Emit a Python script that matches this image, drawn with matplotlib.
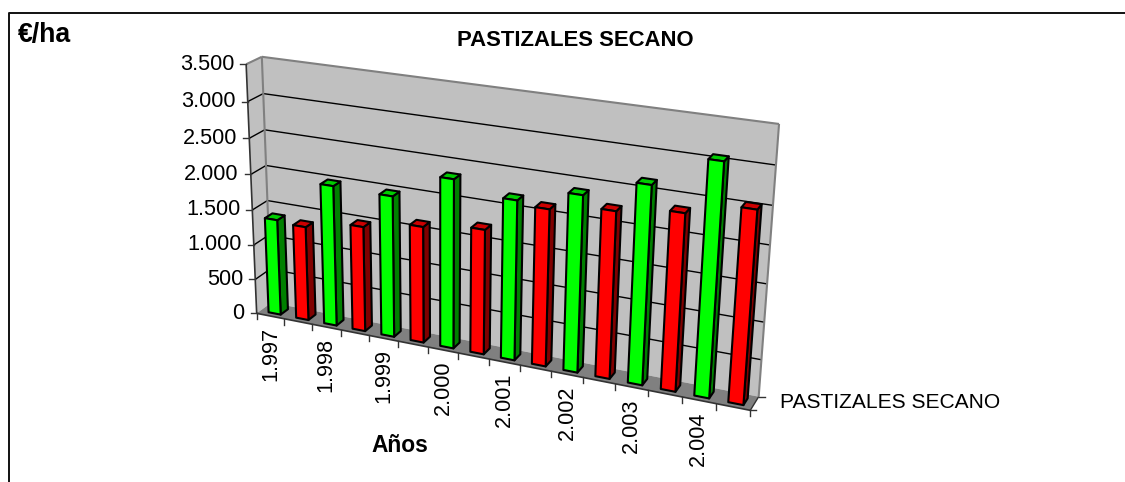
import numpy as np
import matplotlib
matplotlib.use("Agg")
import matplotlib.pyplot as plt
from matplotlib.patches import Polygon

plt.rcParams['font.family'] = ['Liberation Sans', 'DejaVu Sans']

# data
years = ["1.997", "1.998", "1.999", "2.000", "2.001", "2.002", "2.003", "2.004"]
green_values = [1370, 1980, 1970, 2330, 2180, 2380, 2640, 3060]
red_values = [1340, 1480, 1620, 1720, 2130, 2240, 2350, 2530]
value_ticks = [0, 500, 1000, 1500, 2000, 2500, 3000, 3500]
value_labels = ["0", "500", "1.000", "1.500", "2.000", "2.500", "3.000", "3.500"]
series_name = "PASTIZALES SECANO"

VMAX = 3500.0
NCAT = 2 * len(years)

# the box corners in pixels: (category, value, depth) -> where Excel drew it
box_corners = [
    ((0, VMAX, 0), (245, 64)), ((0, 0, 0), (258, 313)), ((NCAT, 0, 0), (750, 411)),
    ((0, VMAX, 1), (263, 57)), ((0, 0, 1), (270, 303)), ((NCAT, 0, 1), (759, 396)),
    ((NCAT, VMAX, 1), (779, 124)),
]


def fit_projection(corners):
    # plain DLT, gives the 3x4 perspective matrix for the 3D box
    rows = []
    for (x, y, z), (px, py) in corners:
        rows.append([x, y, z, 1, 0, 0, 0, 0, -px * x, -px * y, -px * z, -px])
        rows.append([0, 0, 0, 0, x, y, z, 1, -py * x, -py * y, -py * z, -py])
    _, _, vt = np.linalg.svd(np.array(rows, dtype=float))
    return vt[-1].reshape(3, 4)


P = fit_projection(box_corners)


def proj(x, y, z):
    h = P @ np.array([x, y, z, 1.0])
    return h[0] / h[2], h[1] / h[2]


def face(ax, pts, color, edge, lw=1.0, zorder=1):
    ax.add_patch(Polygon([proj(*p) for p in pts], closed=True, facecolor=color,
                         edgecolor=edge, linewidth=lw, joinstyle='round', zorder=zorder))


def seg(ax, a, b, color="black", lw=1.0, zorder=2):
    pa, pb = proj(*a), proj(*b)
    ax.plot([pa[0], pb[0]], [pa[1], pb[1]], color=color, lw=lw, zorder=zorder,
            solid_capstyle='butt')


def bar(ax, i, value, front, side, top, zorder):
    # bar sits in the middle of its category and in the middle of the depth
    x0, x1 = i + 0.30, i + 0.74
    z0, z1 = 0.25, 0.75
    face(ax, [(x1, 0, z0), (x1, 0, z1), (x1, value, z1), (x1, value, z0)], side, "black", 1.5, zorder)
    face(ax, [(x0, value, z0), (x1, value, z0), (x1, value, z1), (x0, value, z1)], top, "black", 1.5, zorder)
    face(ax, [(x0, 0, z0), (x1, 0, z0), (x1, value, z0), (x0, value, z0)], front, "black", 1.5, zorder)


fig = plt.figure(figsize=(11.25, 4.82), dpi=100)
ax = fig.add_axes([0, 0, 1, 1])
ax.set_xlim(0, 1125)
ax.set_ylim(482, 0)
ax.axis('off')

# chart frame, cut off at the bottom and right of the picture
ax.plot([8.5, 8.5, 1125], [482, 12.5, 12.5], color="#111111", lw=1.4, zorder=0)

# walls and floor
face(ax, [(0, 0, 0), (0, 0, 1), (0, VMAX, 1), (0, VMAX, 0)], "#C0C0C0", "none", zorder=1)
face(ax, [(0, 0, 1), (NCAT, 0, 1), (NCAT, VMAX, 1), (0, VMAX, 1)], "#C0C0C0", "none", zorder=1)
face(ax, [(0, 0, 0), (NCAT, 0, 0), (NCAT, 0, 1), (0, 0, 1)], "#808080", "none", zorder=1)

for v in value_ticks[1:-1]:
    seg(ax, (0, v, 0), (0, v, 1), lw=1.0)
    seg(ax, (0, v, 1), (NCAT, v, 1), lw=1.0)

# grey outline of the walls
seg(ax, (0, VMAX, 0), (0, VMAX, 1), color="#808080", lw=1.5)
seg(ax, (0, VMAX, 1), (NCAT, VMAX, 1), color="#808080", lw=1.5)
seg(ax, (0, 0, 1), (0, VMAX, 1), color="#808080", lw=1.5)
seg(ax, (NCAT, 0, 1), (NCAT, VMAX, 1), color="#808080", lw=1.5)

# bars do not overlap so the drawing order does not matter
for k in range(len(years)):
    bar(ax, 2 * k, green_values[k], "#00FF00", "#008000", "#00CC00", 3)
    bar(ax, 2 * k + 1, red_values[k], "#FF0000", "#800000", "#CC0000", 3)

# value axis
seg(ax, (0, 0, 0), (0, VMAX, 0), color="#333333", lw=1.2, zorder=4)
for v, lab in zip(value_ticks, value_labels):
    px, py = proj(0, v, 0)
    ax.plot([px - 6, px], [py, py], color="#333333", lw=1.0, zorder=4)
    ax.text(px - 12, py, lab, ha='right', va='center', fontsize=15.6, color="black")

# category axis
seg(ax, (0, 0, 0), (NCAT, 0, 0), color="#333333", lw=1.2, zorder=4)
for i in range(NCAT + 1):
    px, py = proj(i, 0, 0)
    ax.plot([px, px], [py, py + 6], color="#333333", lw=1.0, zorder=4)
for k, lab in enumerate(years):
    px, py = proj(2 * k + 0.5, 0, 0)
    ax.text(px, py + 11, lab, rotation=90, ha='center', va='top', fontsize=15.6, color="black")

# depth axis with its single label
seg(ax, (NCAT, 0, 0), (NCAT, 0, 1), color="#333333", lw=1.0, zorder=4)
for z in (0, 1):
    px, py = proj(NCAT, 0, z)
    ax.plot([px, px + 6], [py, py], color="#333333", lw=1.0, zorder=4)
ax.text(780, 402, series_name, ha='left', va='center', fontsize=15.1, color="black")

ax.text(18, 35, "€/ha", ha='left', va='center', fontsize=19.2, fontweight='bold')
ax.text(575, 40, "PASTIZALES SECANO", ha='center', va='center', fontsize=15.9, fontweight='bold')
ax.text(400, 446, "Años", ha='center', va='center', fontsize=16.4, fontweight='bold')

fig.savefig("out.png", dpi=100)
